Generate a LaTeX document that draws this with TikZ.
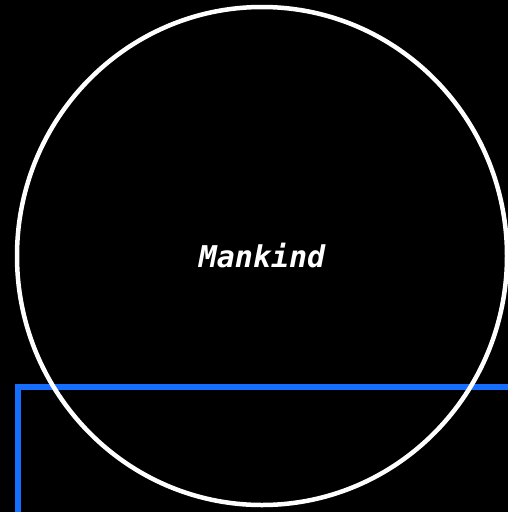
\documentclass[tikz,border=0pt]{standalone}
\usepackage{fontspec}
\setmonofont{DejaVu Sans Mono}
\usepackage{tikz}
\usetikzlibrary{shapes.geometric}
\definecolor{regionblue}{RGB}{22,110,255}

\begin{document}
\begin{tikzpicture}[
    x=1pt,y=-1pt,
    region/.style={draw=regionblue,line width=6pt,fill=none,
      minimum width=560pt,minimum height=240pt,inner sep=0pt,anchor=north west},
    person/.style={ellipse,draw=white,line width=4.5pt,
      minimum width=490pt,minimum height=498pt,inner sep=0pt,
      text=white,font=\ttfamily\bfseries\itshape\fontsize{30}{36}\selectfont}
  ]
    \fill[black] (0,0) rectangle (508,512);
    \useasboundingbox (0,0) rectangle (508,512);
    \clip (0,0) rectangle (508,512);
    \node[region] (world) at (15,384) {};
    \node[person] (mankind) at (262,256) {Mankind};
  \end{tikzpicture}
\end{document}
